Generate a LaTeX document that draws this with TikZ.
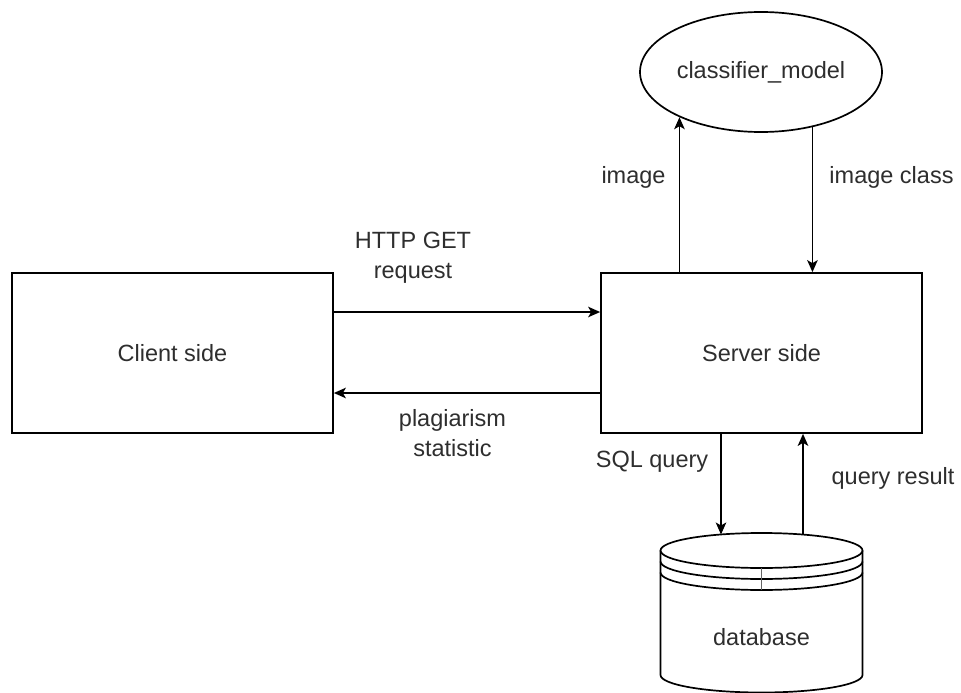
\documentclass[tikz,border=0pt]{standalone}
\usepackage{fontspec}
\setmainfont{Liberation Sans}
\usetikzlibrary{arrows.meta,shapes.geometric,calc}
\begin{document}
\begin{tikzpicture}[x=1pt,y=-1pt,
  line width=1.7pt,
  every node/.style={font=\fontsize{23.5}{30}\selectfont,text=black!82,inner sep=0pt},
  box/.style={draw=black,minimum width=321pt,minimum height=160pt},
  oval/.style={draw=black,ellipse,minimum width=242pt,minimum height=120pt},
  lbl/.style={align=center},
  arr/.style={draw=black,-{Stealth[length=12pt,width=10.5pt,inset=3pt]}}]
\useasboundingbox (0,0) rectangle (961,693);
\fill[white] (0,0) rectangle (961,693);

\node[box] (cli) at (172.5,353) {Client side};
\node[box] (srv) at (761.5,353) {Server side};
\node[oval] (cls) at (761,72) {classifier\_model};

% database cylinder
\draw[fill=white] (660.5,550.5) -- (660.5,675) arc[start angle=180,end angle=0,x radius=101,y radius=17.5] -- (862.5,550.5);
\draw (761.5,550.5) ellipse[x radius=101,y radius=17.5];
\draw (660.5,561.5) arc[start angle=180,end angle=0,x radius=101,y radius=17.5];
\draw (660.5,572.5) arc[start angle=180,end angle=0,x radius=101,y radius=17.5];
\draw[line width=0.6pt,black!60] (761.5,568) -- (761.5,590);
\node (db) at (761.5,637) {database};
\coordinate (dbq) at (721,534.5);
\coordinate (dbr) at (803,534.5);

% connectors
\draw[arr] ([yshift=41pt]cli.east) -- ([yshift=41pt]srv.west);
\draw[arr] ([yshift=-40pt]srv.west) -- ([yshift=-40pt]cli.east);
\draw[arr] (cls.209.9 |- srv.north) -- (cls.209.9);
\draw[arr] (cls.313.8) -- (cls.313.8 |- srv.north);
\draw[arr] (srv.south -| dbq) -- (dbq);
\draw[arr] (dbr) -- (srv.south -| dbr);

% labels
\node[lbl] (l1) at (413,258) {HTTP GET\\request};
\node[lbl] (l2) at (452.5,433) {plagiarism\\statistic};
\node[lbl] (l3) at (633.5,177) {image};
\node[lbl] (l4) at (891.5,177) {image class};
\node[lbl] (l5) at (652,462) {SQL query};
\node[lbl] (l6) at (893,478) {query result};
\end{tikzpicture}
\end{document}
